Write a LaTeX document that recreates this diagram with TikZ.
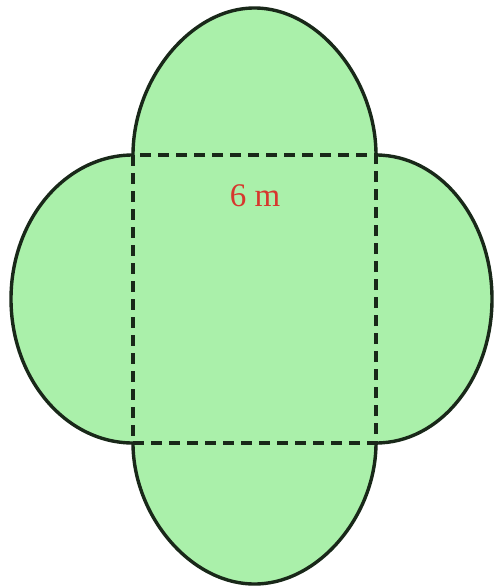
\documentclass[tikz,border=0pt]{standalone}
\usepackage{fontspec}
\setmainfont{Liberation Serif}
\definecolor{leaf}{RGB}{170,240,170}
\definecolor{lbl}{RGB}{215,55,45}
\definecolor{ink}{RGB}{25,40,25}
\begin{document}
\begin{tikzpicture}[x=1pt,y=-1pt,
  outline/.style={draw=ink,line width=3.4pt},
  fold/.style={draw=ink,line width=3.4pt,dash pattern=on 11pt off 7pt}]
\useasboundingbox (0,0) rectangle (493,586);
% fills
\fill[leaf] (133,155) rectangle (376,443);
\fill[leaf] (133,155) .. controls (133,80) and (190,8) .. (254.5,8) .. controls (319,8) and (376,80) .. (376,155) -- cycle;
\fill[leaf] (133,443) .. controls (133,515) and (190,584) .. (254.5,584) .. controls (319,584) and (376,515) .. (376,443) -- cycle;
\fill[leaf] (133,155) arc[start angle=90,end angle=270,x radius=122,y radius=-144] -- cycle;
\fill[leaf] (376,155) arc[start angle=90,end angle=-90,x radius=116,y radius=-144] -- cycle;
% outlines
\draw[outline] (133,155) .. controls (133,80) and (190,8) .. (254.5,8) .. controls (319,8) and (376,80) .. (376,155);
\draw[outline] (133,443) .. controls (133,515) and (190,584) .. (254.5,584) .. controls (319,584) and (376,515) .. (376,443);
\draw[outline] (133,155) arc[start angle=90,end angle=270,x radius=122,y radius=-144];
\draw[outline] (376,155) arc[start angle=90,end angle=-90,x radius=116,y radius=-144];
% fold lines
\draw[fold] (133,155) rectangle (376,443);
\node[text=lbl,font=\fontsize{33pt}{38pt}\selectfont] (lab) at (255,196) {6 m};
\end{tikzpicture}
\end{document}
